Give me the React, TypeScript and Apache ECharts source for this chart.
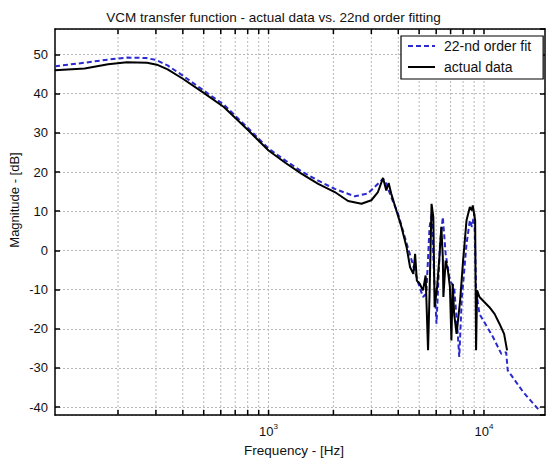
import React, { useEffect, useRef } from "react";
import * as echarts from "echarts";

const TITLE = "VCM transfer function - actual data vs. 22nd order fitting";
const X_NAME = "Frequency - [Hz]";
const Y_NAME = "Magnitude - [dB]";
const SERIES_NAMES = ["22-nd order fit", "actual data"];

const X_MIN = 102;
const X_MAX = 19200;
const Y_MIN = -42;
const Y_MAX = 56.5;

const GRID_FREQS = [200, 300, 400, 500, 600, 700, 800, 900, 1000, 2000, 3000, 4000, 5000, 6000, 7000, 8000, 9000, 10000];

const FREQ_FIT = [102, 140, 180, 220, 270, 300, 340, 400, 500, 620, 800, 1000, 1200, 1420, 1700, 2030, 2510, 2890, 3220, 3400, 3520, 3710, 3990, 4290, 4620, 4970, 5210, 5400, 5590, 5730, 5860, 6020, 6250, 6440, 6640, 6950, 7270, 7500, 7680, 7880, 8300, 8600, 8790, 9020, 9190, 9530, 11010, 12040, 12680, 12890, 15240, 18200];
const MAG_FIT = [47.0, 47.9, 48.7, 49.2, 49.1, 48.6, 47.2, 44.6, 40.8, 37.2, 31.3, 26.0, 22.9, 20.2, 17.8, 15.7, 13.8, 14.5, 17.0, 18.3, 17.0, 13.6, 9.4, 3.4, -2.6, -8.5, -11.9, -11.0, 6.0, 9.4, -6.0, -18.7, 1.7, 8.5, -0.9, -7.7, -9.4, -18.7, -27.2, -12.8, 1.7, 7.7, 6.0, 9.4, -10.2, -16.2, -22.1, -26.4, -26.0, -30.6, -36.2, -41.0];

const FREQ_ACTUAL = [102, 140, 180, 220, 273, 303, 340, 400, 500, 620, 800, 1000, 1200, 1420, 1700, 2030, 2340, 2700, 3000, 3220, 3400, 3520, 3610, 3710, 3920, 4140, 4370, 4540, 4700, 4790, 4880, 5030, 5210, 5360, 5500, 5590, 5710, 5820, 5900, 6060, 6210, 6340, 6440, 6480, 6640, 6800, 6950, 7060, 7160, 7270, 7460, 7750, 8000, 8300, 8600, 8790, 8870, 9100, 9190, 9290, 9530, 10600, 11200, 11800, 12400, 12800];
const MAG_ACTUAL = [46.0, 46.4, 47.5, 48.0, 47.9, 47.4, 46.2, 43.8, 40.2, 36.6, 30.8, 25.5, 22.3, 19.6, 17.0, 14.9, 12.6, 11.9, 12.8, 14.9, 18.5, 15.3, 17.2, 14.5, 10.2, 6.0, 0.9, -4.3, -6.0, -0.9, -7.7, -8.5, -10.2, -6.4, -25.5, -11.0, 11.9, 8.5, -14.5, -9.4, -1.7, 6.0, -1.7, -11.9, -2.6, -5.1, -9.4, -23.0, -8.5, -16.2, -21.3, -12.8, -2.6, 7.7, 11.1, 10.2, 11.5, 7.7, -25.5, -10.2, -11.9, -14.5, -16.2, -18.7, -21.3, -25.5];

const FONT = "'Liberation Sans', Arial, Helvetica, sans-serif";

export default function App() {
  const ref = useRef<HTMLDivElement>(null);
  useEffect(() => {
    if (!ref.current) return;
    const chart = echarts.init(ref.current, undefined, { renderer: "svg" });
    const fitData = FREQ_FIT.map((f, i) => [f, MAG_FIT[i]]);
    const actData = FREQ_ACTUAL.map((f, i) => [f, MAG_ACTUAL[i]]);
    const gridData = GRID_FREQS.map((f) => [f, Y_MIN]);
    chart.setOption({
      animation: false,
      backgroundColor: "#ffffff",
      textStyle: { fontFamily: FONT },
      title: {
        text: TITLE,
        left: "center",
        top: 5,
        textStyle: { fontSize: 13.5, fontWeight: "normal", color: "#111", fontFamily: FONT },
      },
      graphic: [
        {
          type: "text",
          x: 14,
          y: 200,
          rotation: Math.PI / 2,
          style: { text: Y_NAME, fill: "#111", font: `13px ${FONT}`, textAlign: "center", textVerticalAlign: "middle" },
        },
      ],
      legend: {
        data: SERIES_NAMES,
        orient: "vertical",
        left: 401,
        top: 36,
        padding: [3, 12, 5, 6],
        itemWidth: 27,
        itemHeight: 14,
        itemGap: 7,
        borderColor: "#000",
        borderWidth: 1.2,
        backgroundColor: "#fff",
        itemStyle: { opacity: 0 },
        textStyle: { fontSize: 14, color: "#111", fontFamily: FONT, padding: [0, 0, 0, 4] },
      },
      grid: { left: 55, right: 2, top: 29, bottom: 46, containLabel: false },
      xAxis: [
        {
          type: "log",
          logBase: 10,
          min: X_MIN,
          max: X_MAX,
          name: X_NAME,
          nameLocation: "middle",
          nameGap: 28,
          nameTextStyle: { fontSize: 13.5, color: "#111", fontFamily: FONT, padding: [0, 12, 0, 0] },
          axisLine: { show: true, onZero: false, lineStyle: { color: "#000", width: 1.5 } },
          axisTick: { show: false },
          splitLine: { show: false },
          minorTick: { show: false },
          axisLabel: {
            showMinLabel: false,
            showMaxLabel: false,
            margin: 7,
            formatter: (v: number) => {
              const l = Math.log10(v);
              const e = Math.round(l);
              if (Math.abs(l - e) > 1e-6) return "";
              return `{b|10}{s|${e}}`;
            },
            rich: {
              b: { fontSize: 13, color: "#111", fontFamily: FONT, verticalAlign: "bottom", lineHeight: 16 },
              s: { fontSize: 8, color: "#111", fontFamily: FONT, verticalAlign: "top", lineHeight: 16 },
            },
          },
        },
        {
          type: "log",
          logBase: 10,
          min: X_MIN,
          max: X_MAX,
          position: "top",
          axisLine: { show: true, onZero: false, lineStyle: { color: "#000", width: 1.5 } },
          axisTick: { show: false },
          axisLabel: { show: false },
          splitLine: { show: false },
        },
      ],
      yAxis: [
        {
          type: "value",
          min: Y_MIN,
          max: Y_MAX,
          splitNumber: 10,
          axisLine: { show: true, onZero: false, lineStyle: { color: "#000", width: 1.5 } },
          axisTick: { show: true, inside: true, length: 5, lineStyle: { color: "#000", width: 1.5 } },
          axisLabel: { showMinLabel: false, showMaxLabel: false, margin: 7, fontSize: 13, color: "#111", fontFamily: FONT },
          splitLine: { show: true, lineStyle: { color: "#b8b8b8", width: 1, type: [2, 2] } },
        },
        {
          type: "value",
          min: Y_MIN,
          max: Y_MAX,
          splitNumber: 10,
          position: "right",
          axisLine: { show: true, onZero: false, lineStyle: { color: "#000", width: 1.5 } },
          axisTick: { show: true, inside: true, length: 5, lineStyle: { color: "#000", width: 1.5 } },
          axisLabel: { show: false },
          splitLine: { show: false },
        },
      ],
      series: [
        {
          type: "custom",
          name: "grid",
          silent: true,
          z: 1,
          xAxisIndex: 0,
          yAxisIndex: 0,
          encode: { x: 0, y: 1 },
          data: gridData,
          renderItem: (params: any, api: any) => {
            const f = api.value(0);
            const top = api.coord([f, Y_MAX]);
            const bot = api.coord([f, Y_MIN]);
            return {
              type: "group",
              children: [
                { type: "line", shape: { x1: top[0], y1: top[1], x2: bot[0], y2: bot[1] }, style: { stroke: "#b8b8b8", lineWidth: 1, lineDash: [2, 2] } },
                { type: "line", shape: { x1: bot[0], y1: bot[1], x2: bot[0], y2: bot[1] - 5 }, style: { stroke: "#000", lineWidth: 1.5 } },
                { type: "line", shape: { x1: top[0], y1: top[1], x2: top[0], y2: top[1] + 5 }, style: { stroke: "#000", lineWidth: 1.5 } },
              ],
            };
          },
        },
        {
          type: "line",
          name: SERIES_NAMES[0],
          data: fitData,
          showSymbol: false,
          symbol: "none",
          z: 3,
          lineStyle: { color: "#2a2ad0", width: 2, type: [5, 3] },
          itemStyle: { color: "#2a2ad0" },
        },
        {
          type: "line",
          name: SERIES_NAMES[1],
          data: actData,
          showSymbol: false,
          symbol: "none",
          z: 4,
          lineStyle: { color: "#000", width: 2 },
          itemStyle: { color: "#000" },
        },
      ],
    });
    return () => chart.dispose();
  }, []);
  return <div ref={ref} style={{ position: "fixed", left: 0, top: 0, width: 547, height: 462 }} />;
}
